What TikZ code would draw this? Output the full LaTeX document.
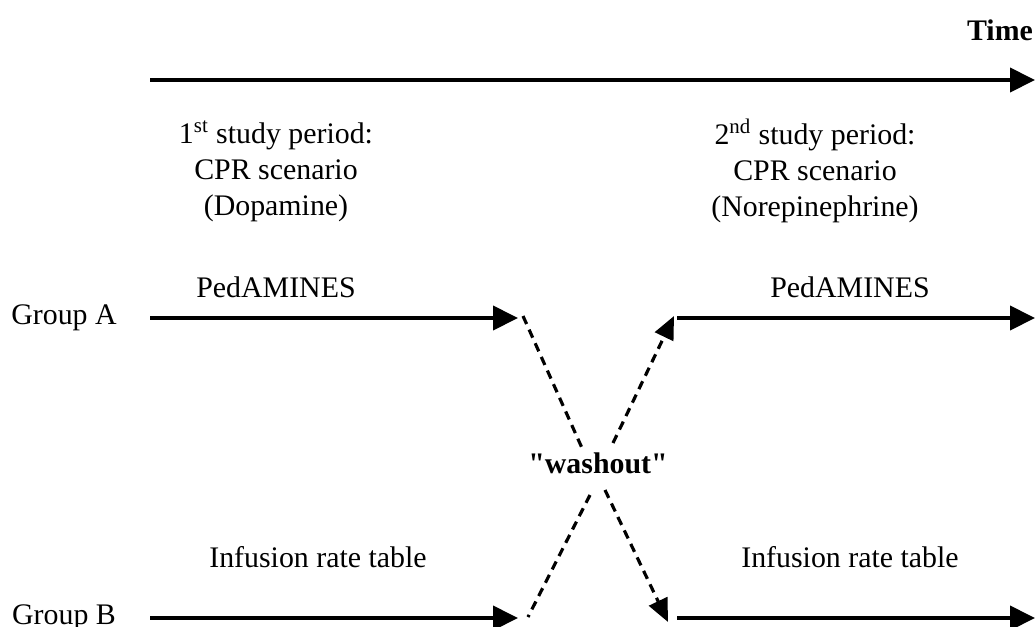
\documentclass[tikz,border=0pt]{standalone}
\usepackage{fontspec}
\setmainfont{Liberation Serif}
\usetikzlibrary{arrows.meta}
\tikzset{flow/.style={line width=2.3pt, -{Triangle[length=0.5cm,width=0.48cm]}},
%dashed cross-over lines, with and without a tip
switch/.style={line width=1.8pt, dash pattern=on 5pt off 3.5pt},
switcharrow/.style={switch, -{Triangle[length=0.46cm,width=0.4cm]}},
lbl/.style={font=\fontsize{17}{20.5}\selectfont, align=center, inner sep=0pt}}

\begin{document}
\begin{tikzpicture}[x=0.02cm, y=-0.02cm]
\useasboundingbox (0,0) rectangle (1035,626);

\coordinate (t0) at (150,80);
\coordinate (t1) at (1035,80);

\coordinate (a0) at (150,318);
\coordinate (a1) at (518,318);
\coordinate (a2) at (677,318);
\coordinate (a3) at (1035,318);

\coordinate (b0) at (150,618);
\coordinate (b1) at (518,618);
\coordinate (b2) at (677,618);
\coordinate (b3) at (1035,618);

\coordinate (s1) at (523,316);
\coordinate (s2) at (582,448);
\coordinate (s3) at (613,443);
\coordinate (s4) at (674,316);
\coordinate (s5) at (590,495);
\coordinate (s6) at (528,617);
\coordinate (s7) at (605,490);
\coordinate (s8) at (668,622);

\node[lbl] (time) at (1000,30) {\bfseries Time};

\node[lbl] (per1) at (276,171) {1\textsuperscript{st} study period:\\CPR scenario\\(Dopamine)};
\node[lbl] (per2) at (815,171) {2\textsuperscript{nd} study period:\\CPR scenario\\(Norepinephrine)};

\node[lbl] (pedA1) at (276,287) {PedAMINES};
\node[lbl] (pedA2) at (850,287) {PedAMINES};
\node[lbl] (infB1) at (318,557) {Infusion rate table};
\node[lbl] (infB2) at (850,557) {Infusion rate table};

\node[lbl, anchor=base] (grpA) at (64,324) {Group A};
\node[lbl, anchor=base] (grpB) at (64,624) {Group B};

\node[lbl] (wash) at (598,463) {\bfseries\textquotedbl washout\textquotedbl};

\foreach \p/\q in {t0/t1, a0/a1, a2/a3, b0/b1, b2/b3}
    \draw[flow] (\p) -- (\q);

\draw[switch] (s1) -- (s2);
\draw[switch] (s5) -- (s6);
\draw[switcharrow] (s3) -- (s4);
\draw[switcharrow] (s7) -- (s8);

\end{tikzpicture}
\end{document}
